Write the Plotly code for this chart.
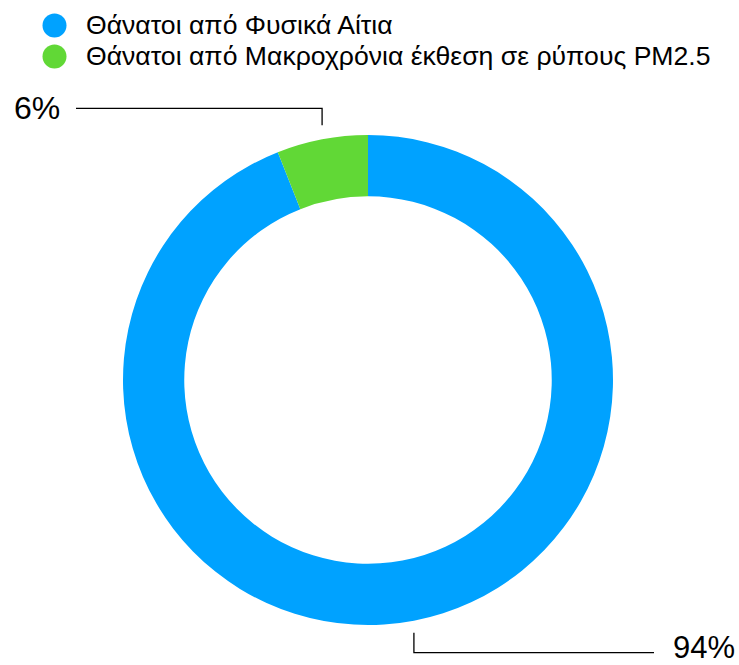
import math
import plotly.graph_objects as go

# Data
categories = ["Θάνατοι από Φυσικά Αίτια", "Θάνατοι από Μακροχρόνια έκθεση σε ρύπους PM2.5"]
values = [94, 6]
colors = ["#00A2FF", "#61D836"]

W, H = 739, 665
FONT = "Liberation Sans, Arial, Helvetica, sans-serif"

# Donut geometry in pixels
cx, cy, R = 368, 380, 245
hole = 0.75


def px(x):
    return x / W


def py(y):
    return 1 - y / H


fig = go.Figure(
    go.Pie(
        labels=categories,
        values=values,
        marker=dict(colors=colors, line=dict(width=0)),
        hole=hole,
        sort=False,
        direction="clockwise",
        rotation=0,
        textinfo="none",
        hoverinfo="label+percent",
        showlegend=False,
        domain=dict(x=[px(cx - R), px(cx + R)], y=[py(cy + R), py(cy - R)]),
    )
)

shapes = []
annotations = []

# Legend: coloured dots with labels
for i, (cat, col) in enumerate(zip(categories, colors)):
    yc = 25.5 + i * 31
    r = 12
    shapes.append(dict(type="circle", xref="paper", yref="paper",
                       x0=px(54.5 - r), x1=px(54.5 + r), y0=py(yc + r), y1=py(yc - r),
                       fillcolor=col, line=dict(width=0)))
    annotations.append(dict(text=cat, xref="paper", yref="paper", x=px(84), y=py(yc),
                            xanchor="left", yanchor="middle", showarrow=False,
                            font=dict(family=FONT, size=26.6, color="#000000")))

# Percentage labels with elbow leader lines from each slice's mid-angle
total = sum(values)
start = 0.0
for v in values:
    frac = v / total
    mid = (start + frac / 2) * 2 * math.pi
    start += frac
    sx = cx + R * math.sin(mid)
    sy = cy - R * math.cos(mid)
    pct = f"{round(frac * 100)}%"
    if math.cos(mid) > 0:
        # label above, to the left
        y0, y1 = sy - 14, sy - 31
        x_end = 76
        shapes.append(dict(type="path", xref="paper", yref="paper",
                           path=f"M {px(sx)} {py(y0)} L {px(sx)} {py(y1)} L {px(x_end)} {py(y1)}",
                           line=dict(color="#000000", width=1.3)))
        annotations.append(dict(text=pct, xref="paper", yref="paper", x=px(62), y=py(y1),
                                xanchor="right", yanchor="middle", showarrow=False,
                                font=dict(family=FONT, size=32, color="#000000")))
    else:
        # label below, to the right
        y0, y1 = sy + 12, sy + 32
        x_end = 654
        shapes.append(dict(type="path", xref="paper", yref="paper",
                           path=f"M {px(sx)} {py(y0)} L {px(sx)} {py(y1)} L {px(x_end)} {py(y1)}",
                           line=dict(color="#000000", width=1.3)))
        annotations.append(dict(text=pct, xref="paper", yref="paper", x=px(671), y=py(y1 - 5),
                                xanchor="left", yanchor="middle", showarrow=False,
                                font=dict(family=FONT, size=31, color="#000000")))

fig.update_layout(
    width=W, height=H,
    margin=dict(l=0, r=0, t=0, b=0),
    paper_bgcolor="#FFFFFF", plot_bgcolor="#FFFFFF",
    shapes=shapes, annotations=annotations,
    font=dict(family=FONT),
)

fig.write_html("out.html", config={"displayModeBar": False})
